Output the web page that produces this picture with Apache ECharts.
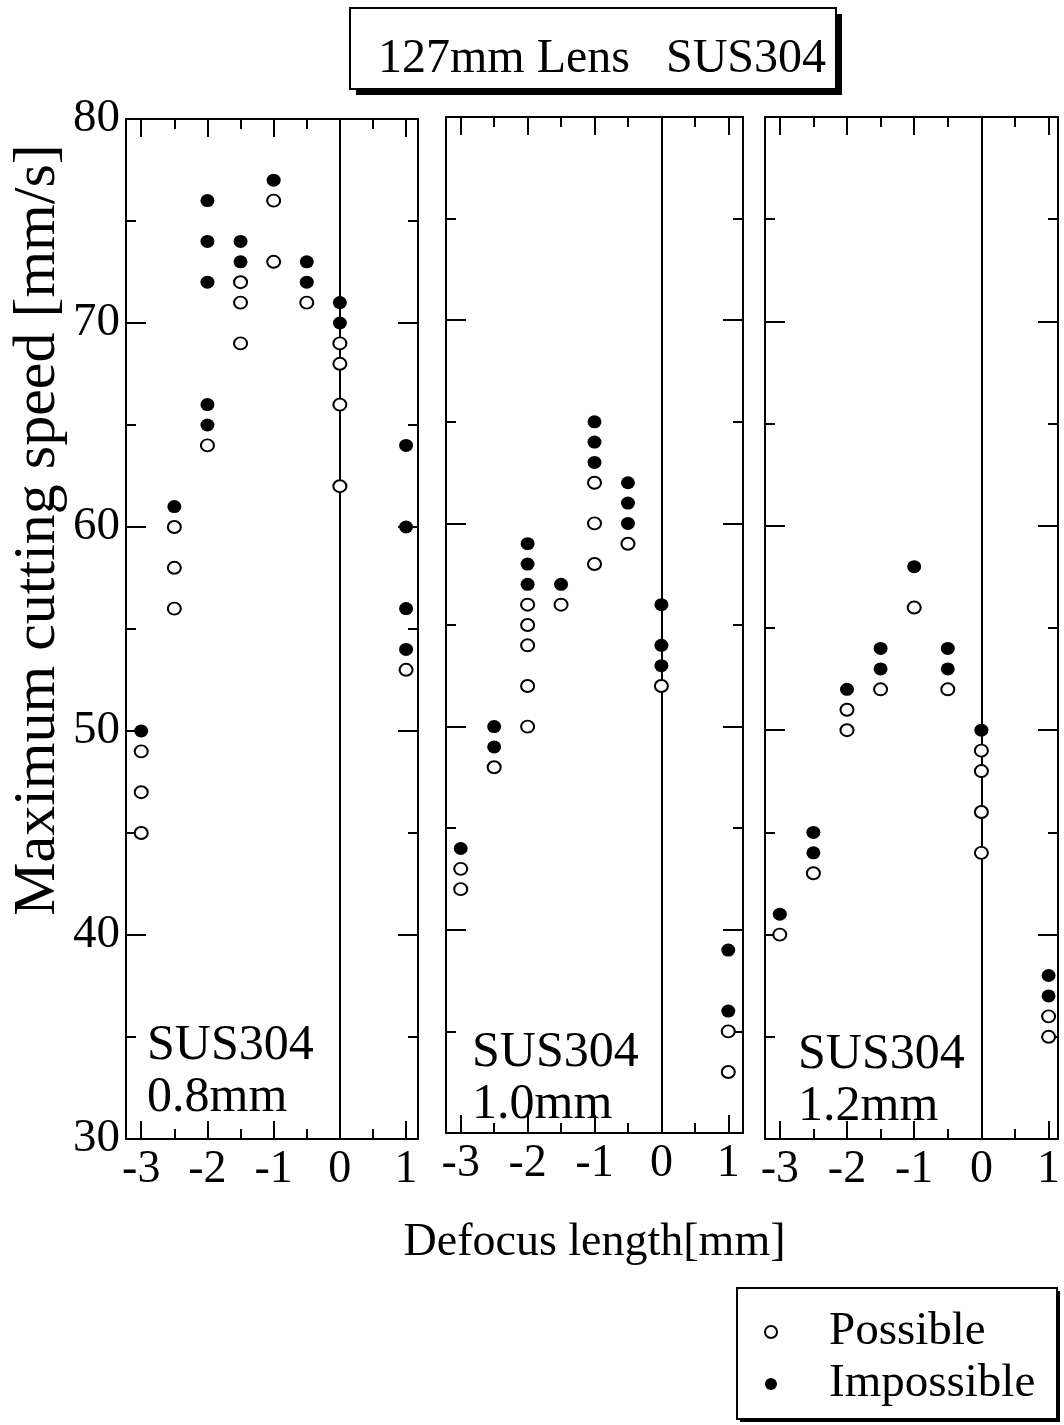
<!DOCTYPE html>
<html><head><meta charset="utf-8">
<script src="https://cdn.jsdelivr.net/npm/echarts@6/dist/echarts.min.js"></script>
<style>html,body{margin:0;padding:0;background:#fff}#c{width:1064px;height:1425px}</style>
</head><body><div id="c"></div>
<script>
// ---- text ----
const titleText = '127mm Lens   SUS304';
const yAxisTitle = 'Maximum cutting speed [mm/s]';
const xAxisTitle = 'Defocus length[mm]';
const panelLabels = ['SUS304\n0.8mm', 'SUS304\n1.0mm', 'SUS304\n1.2mm'];
const seriesNames = ['Possible', 'Impossible'];

// ---- ticks ----
const xMajorTicks = [-3, -2, -1, 0, 1];
const xMinorTicks = [-3, -2.5, -2, -1.5, -1, -0.5, 0, 0.5, 1];
const yMin = 30, yMax = 80, yMajorStep = 10, yMinorStep = 5;
const zeroLineX = 0;

// ---- data: [defocus, speed] ----
const possible08 = [[-3,49],[-3,47],[-3,45],[-2.5,60],[-2.5,58],[-2.5,56],[-2,64],[-1.5,72],[-1.5,71],[-1.5,69],[-1,76],[-1,73],[-0.5,71],[0,69],[0,68],[0,66],[0,62],[1,53]];
const impossible08 = [[-3,50],[-2.5,61],[-2,76],[-2,74],[-2,72],[-2,66],[-2,65],[-1.5,74],[-1.5,73],[-1,77],[-0.5,73],[-0.5,72],[0,71],[0,70],[1,64],[1,60],[1,56],[1,54]];
const possible10 = [[-3,43],[-3,42],[-2.5,48],[-2,56],[-2,55],[-2,54],[-2,52],[-2,50],[-1.5,56],[-1,62],[-1,60],[-1,58],[-0.5,59],[0,52],[1,35],[1,33]];
const impossible10 = [[-3,44],[-2.5,50],[-2.5,49],[-2,59],[-2,58],[-2,57],[-1.5,57],[-1,65],[-1,64],[-1,63],[-0.5,62],[-0.5,61],[-0.5,60],[0,56],[0,54],[0,53],[1,39],[1,36]];
const possible12 = [[-3,40],[-2.5,43],[-2,51],[-2,50],[-1.5,52],[-1,56],[-0.5,52],[0,49],[0,48],[0,46],[0,44],[1,36],[1,35]];
const impossible12 = [[-3,41],[-2.5,45],[-2.5,44],[-2,52],[-1.5,54],[-1.5,53],[-1,58],[-0.5,54],[-0.5,53],[0,50],[1,38],[1,37]];

const possibleSets = [possible08, possible10, possible12];
const impossibleSets = [impossible08, impossible10, impossible12];
const xRanges = [[-3.23, 1.18], [-3.22, 1.22], [-3.22, 1.14]];

// ---- layout ----
const FONT = '"Liberation Serif", "Times New Roman", serif';
const grids = [
  {left: 126, top: 119, width: 292, height: 1020},
  {left: 446, top: 117, width: 297, height: 1016},
  {left: 765, top: 117, width: 293, height: 1022}
];
const panelLabelPos = [[147, 1020], [472, 1027], [798, 1029]];
const titleBox = {x: 350, y: 8, w: 486, h: 81, shadow: 6};
const legendBox = {x: 737, y: 1288, w: 320, h: 131, shadow: 3};

const black = '#000';
const lineW = 2;
const xAxes = [], yAxes = [], series = [];

grids.forEach((g, i) => {
  const [xmin, xmax] = xRanges[i];
  const baseX = {gridIndex: i, type: 'value', min: xmin, max: xmax, splitLine: {show: false}, silent: true};
  const baseY = {gridIndex: i, type: 'value', min: yMin, max: yMax, splitLine: {show: false}, silent: true};
  xAxes.push(Object.assign({}, baseX, {
    position: 'bottom',
    axisLine: {show: true, onZero: false, lineStyle: {color: black, width: lineW}},
    axisTick: {show: true, inside: true, length: 18, customValues: xMajorTicks, lineStyle: {color: black, width: lineW}},
    axisLabel: {show: true, customValues: xMajorTicks, margin: 8, fontSize: 46, fontFamily: FONT, color: black},
    name: i === 1 ? xAxisTitle : '', nameLocation: 'middle', nameGap: 87,
    nameTextStyle: {fontSize: 46, fontFamily: FONT, color: black}
  }));
  xAxes.push(Object.assign({}, baseX, {
    position: 'bottom',
    axisLine: {show: false, onZero: false},
    axisTick: {show: true, inside: true, length: 10, customValues: xMinorTicks, lineStyle: {color: black, width: lineW}},
    axisLabel: {show: false}
  }));
  xAxes.push(Object.assign({}, baseX, {
    position: 'top',
    axisLine: {show: true, onZero: false, lineStyle: {color: black, width: lineW}},
    axisTick: {show: true, inside: true, length: 18, customValues: xMajorTicks, lineStyle: {color: black, width: lineW}},
    axisLabel: {show: false}
  }));
  xAxes.push(Object.assign({}, baseX, {
    position: 'top',
    axisLine: {show: false, onZero: false},
    axisTick: {show: true, inside: true, length: 10, customValues: xMinorTicks, lineStyle: {color: black, width: lineW}},
    axisLabel: {show: false}
  }));
  yAxes.push(Object.assign({}, baseY, {
    position: 'left', interval: yMajorStep,
    axisLine: {show: true, onZero: false, lineStyle: {color: black, width: lineW}},
    axisTick: {show: true, inside: true, length: 20, lineStyle: {color: black, width: lineW}},
    axisLabel: {show: i === 0, margin: 6, fontSize: 47, fontFamily: FONT, color: black}
  }));
  yAxes.push(Object.assign({}, baseY, {
    position: 'left', interval: yMinorStep,
    axisLine: {show: false, onZero: false},
    axisTick: {show: true, inside: true, length: 10, lineStyle: {color: black, width: lineW}},
    axisLabel: {show: false}
  }));
  yAxes.push(Object.assign({}, baseY, {
    position: 'right', interval: yMajorStep,
    axisLine: {show: true, onZero: false, lineStyle: {color: black, width: lineW}},
    axisTick: {show: true, inside: true, length: 20, lineStyle: {color: black, width: lineW}},
    axisLabel: {show: false}
  }));
  yAxes.push(Object.assign({}, baseY, {
    position: 'right', interval: yMinorStep,
    axisLine: {show: false, onZero: false},
    axisTick: {show: true, inside: true, length: 10, lineStyle: {color: black, width: lineW}},
    axisLabel: {show: false}
  }));

  series.push({
    name: seriesNames[0], type: 'scatter', xAxisIndex: i * 4, yAxisIndex: i * 4, z: 5,
    symbol: 'circle', symbolSize: [13, 12],
    itemStyle: {color: '#fff', borderColor: black, borderWidth: 2, opacity: 1},
    emphasis: {disabled: true},
    data: possibleSets[i],
    markLine: {
      silent: true, z: 1, symbol: ['none', 'none'], label: {show: false},
      lineStyle: {color: black, width: lineW, type: 'solid'},
      emphasis: {disabled: true},
      data: [{xAxis: zeroLineX}]
    }
  });
  series.push({
    name: seriesNames[1], type: 'scatter', xAxisIndex: i * 4, yAxisIndex: i * 4, z: 5,
    symbol: 'circle', symbolSize: [14, 13],
    itemStyle: {color: black, borderColor: black, borderWidth: 0, opacity: 1},
    emphasis: {disabled: true},
    data: impossibleSets[i]
  });
});

const titles = [{
  text: titleText, left: 378, top: 31, padding: 0, z: 10,
  textStyle: {fontSize: 48, fontFamily: FONT, fontWeight: 'normal', color: black, lineHeight: 56}
}];
panelLabels.forEach((t, i) => {
  titles.push({
    text: t, left: panelLabelPos[i][0], top: panelLabelPos[i][1], padding: 0,
    textStyle: {fontSize: 50, fontFamily: FONT, fontWeight: 'normal', color: black, lineHeight: 52}
  });
});

function boxWithShadow(b) {
  return [
    {type: 'rect', silent: true, z: 1, shape: {x: b.x + b.shadow, y: b.y + b.shadow, width: b.w, height: b.h},
     style: {fill: black}},
    {type: 'rect', silent: true, z: 2, shape: {x: b.x, y: b.y, width: b.w, height: b.h},
     style: {fill: '#fff', stroke: black, lineWidth: 2}}
  ];
}

const chart = echarts.init(document.getElementById('c'), null, {renderer: 'canvas'});
chart.setOption({
  backgroundColor: '#fff',
  animation: false,
  title: titles,
  grid: grids.map(g => Object.assign({containLabel: false}, g)),
  xAxis: xAxes,
  yAxis: yAxes,
  legend: {
    data: seriesNames, orient: 'vertical', left: 764, top: 1306, z: 10,
    itemWidth: 40, itemHeight: 12, itemGap: 0, selectedMode: false, padding: 0,
    textStyle: {fontSize: 47, fontFamily: FONT, color: black, lineHeight: 52, padding: [0, 0, 0, 33]}
  },
  graphic: boxWithShadow(titleBox).concat(boxWithShadow(legendBox)).concat([{
    type: 'text', x: 38, y: 530, rotation: Math.PI / 2, silent: true, z: 3,
    style: {text: yAxisTitle, fontSize: 60, fontFamily: FONT, fill: black, align: 'center', verticalAlign: 'middle'}
  }]),
  series: series
});
</script></body></html>
